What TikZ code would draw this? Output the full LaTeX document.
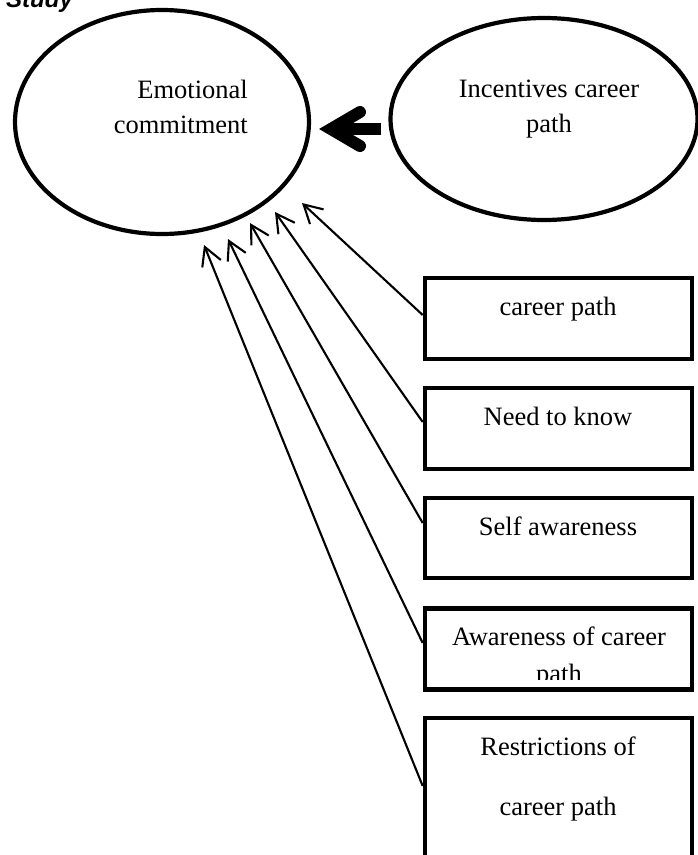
\documentclass[tikz,border=0pt]{standalone}
\usepackage{fontspec}
\setmainfont{Liberation Serif}
\newfontfamily\headfont{Liberation Sans}
\usetikzlibrary{arrows.meta,positioning,shapes.geometric}
\begin{document}
\begin{tikzpicture}[x=1pt,y=-1pt,
  oval/.style={draw, ellipse, line width=4.2pt, inner sep=0pt},
  factor/.style={draw, rectangle, line width=4.6pt, inner sep=0pt, minimum width=267pt},
  txt/.style={font=\fontsize{26.5}{35}\selectfont, inner sep=0pt, anchor=base},
  link/.style={line width=2.1pt, -{Straight Barb[length=18pt,width=20pt]}},
  bigarrow/.style={line width=12pt, -{Straight Barb[length=29pt,width=34pt,line cap=round,line join=miter]}}]
\useasboundingbox (0,0) rectangle (697,855);
\node[font=\headfont\bfseries\itshape\fontsize{24}{28}\selectfont, inner sep=0pt, anchor=base west] (title) at (6,7) {Study};
\node[oval, minimum width=294pt, minimum height=224pt] (emo) at (162,122) {};
\node[oval, minimum width=307pt, minimum height=202pt] (inc) at (544,119) {};
\node[txt, align=right, anchor=base east] (emotxt) at (248,133) {Emotional\\commitment};
\node[txt, align=center] (inctxt) at (549,132) {Incentives career\\path};
\draw[bigarrow] ([shift={(-7,10)}]inc.west) -- ([shift={(8,7)}]emo.east);
\node[factor, minimum height=81pt] (cpath) at (558.5,318.5) {};
\node[factor, minimum height=81pt] (need) at (558.5,428.5) {};
\node[factor, minimum height=80pt] (self) at (558.5,538) {};
\node[factor, minimum height=80.5pt] (aware) at (558.5,649) {};
\node[factor, minimum height=152pt] (restr) at (558.5,794) {};
\node[txt] (cpathtxt) at (558,315) {career path};
\node[txt] (needtxt) at (558,425) {Need to know};
\node[txt] (selftxt) at (558,535) {Self awareness};
\node[txt] (awaretxt) at (559,645) {Awareness of career};
\begin{scope}
\clip (428,650) rectangle (690,679);
\node[txt] (awarepath) at (559,682) {path};
\end{scope}
\node[txt] (restrtxt) at (558,755) {Restrictions of};
\node[txt] (restrpath) at (558,815) {career path};
\coordinate (e1) at (302,203);
\coordinate (e2) at (275,212);
\coordinate (e3) at (250,223);
\coordinate (e4) at (228,239);
\coordinate (e5) at (204,245);
\draw[link] ([yshift=3.5pt]cpath.west) -- (e1);
\draw[link] ([yshift=6.5pt]need.west) -- (e2);
\draw[link] ([yshift=15pt]self.west) -- (e3);
\draw[link] ([yshift=6pt]aware.west) -- (e4);
\draw[link] ([yshift=8pt]restr.west) -- (e5);
\end{tikzpicture}
\end{document}
